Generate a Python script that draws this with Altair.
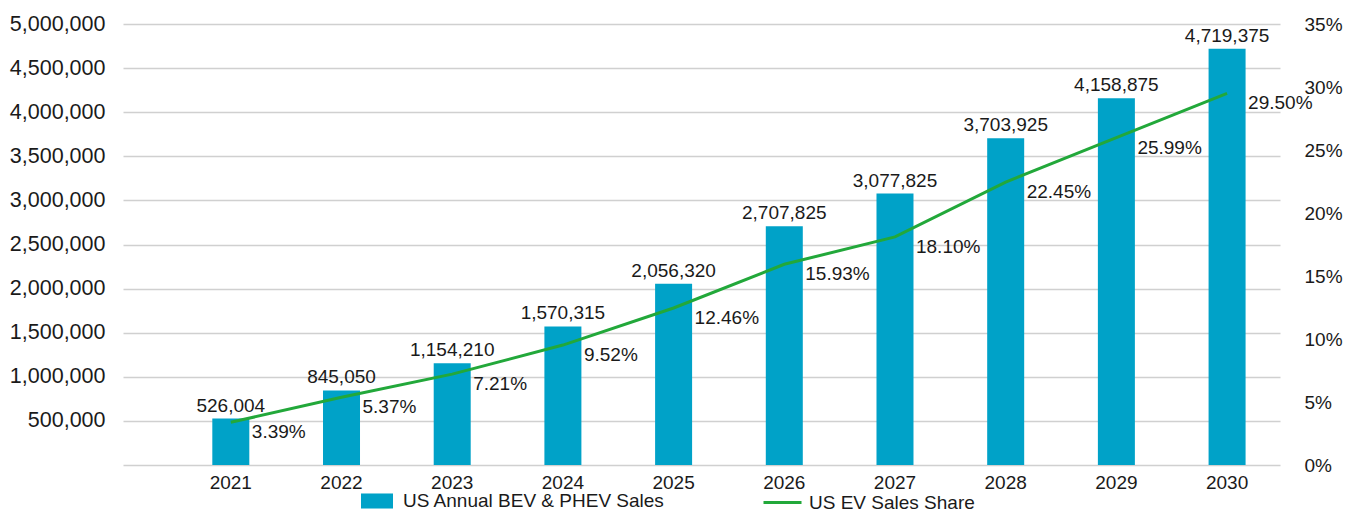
import altair as alt
import pandas as pd

years = ["2021", "2022", "2023", "2024", "2025", "2026", "2027", "2028", "2029", "2030"]
sales = [526004, 845050, 1154210, 1570315, 2056320, 2707825, 3077825, 3703925, 4158875, 4719375]
share = [3.39, 5.37, 7.21, 9.52, 12.46, 15.93, 18.10, 22.45, 25.99, 29.50]
bar_name = "US Annual BEV & PHEV Sales"
line_name = "US EV Sales Share"

df = pd.DataFrame({"year": years, "sales": sales, "share": share})

FONT = "Liberation Sans"
TXT = "#1a1a1a"
BLUE = "#00a2c8"
GREEN = "#22a83a"
FS = 19

xenc = alt.X(
    "year:N",
    sort=years,
    scale=alt.Scale(paddingInner=0.675, paddingOuter=0.5635, align=0.72),
    axis=alt.Axis(title=None, labelAngle=0, ticks=False, domain=False, grid=False,
                  labelPadding=8, labelFontSize=FS, labelColor=TXT, labelFont=FONT),
)

yb = alt.Y(
    "sales:Q",
    scale=alt.Scale(domain=[0, 5000000]),
    axis=alt.Axis(title=None, orient="left", values=list(range(0, 5000001, 500000)),
                  labelExpr="datum.value == 0 ? '' : format(datum.value, ',')",
                  ticks=False, domain=False, grid=True, gridColor="#d0d0d0", gridWidth=1.6,
                  labelPadding=18, labelFontSize=21.5, labelColor=TXT, labelFont=FONT),
)

bars = alt.Chart(df).transform_calculate(series=f"'{bar_name}'").mark_bar(size=37).encode(
    x=xenc,
    y=yb,
    fill=alt.Fill("series:N", scale=alt.Scale(domain=[bar_name], range=[BLUE]),
                  legend=alt.Legend(title=None, orient="none", legendX=238, legendY=461,
                                    symbolType="M-1,-0.47H1V0.47H-1Z", symbolSize=1024,
                                    symbolStrokeWidth=0, labelOffset=10, padding=0, labelLimit=500,
                                    labelFontSize=FS, labelColor=TXT, labelFont=FONT)),
)

bar_text = alt.Chart(df).mark_text(font=FONT, fontSize=FS, color=TXT, baseline="alphabetic", dy=-7).encode(
    x=alt.X("year:N", sort=years),
    y=alt.Y("sales:Q"),
    text=alt.Text("sales:Q", format=","),
)

yl = alt.Y(
    "share:Q",
    scale=alt.Scale(domain=[0, 35]),
    axis=alt.Axis(title=None, orient="right", values=list(range(0, 36, 5)),
                  labelExpr="datum.value + '%'",
                  ticks=False, domain=False, grid=False,
                  labelPadding=24, labelFontSize=FS, labelColor=TXT, labelFont=FONT),
)

line = alt.Chart(df).transform_calculate(series2=f"'{line_name}'").mark_line(strokeWidth=3).encode(
    x=alt.X("year:N", sort=years),
    y=yl,
    stroke=alt.Stroke("series2:N", scale=alt.Scale(domain=[line_name], range=[GREEN]),
                      legend=alt.Legend(title=None, orient="none", legendX=639, legendY=458,
                                        symbolType="stroke", symbolSize=1444,
                                        symbolStrokeWidth=3, labelOffset=6, padding=0, labelLimit=500,
                                        labelFontSize=FS, labelColor=TXT, labelFont=FONT)),
)

line_text = alt.Chart(df).transform_calculate(
    lbl="format(datum.share, '.2f') + '%'"
).mark_text(font=FONT, fontSize=FS, color=TXT, align="left", baseline="middle", dx=21, dy=10).encode(
    x=alt.X("year:N", sort=years),
    y=alt.Y("share:Q"),
    text="lbl:N",
)

chart = alt.layer(
    alt.layer(bars, bar_text),
    alt.layer(line, line_text),
).resolve_scale(y="independent").properties(
    width=1157,
    height=441,
    autosize=alt.AutoSizeParams(type="none"),
    padding={"left": 115, "top": 16, "right": 72, "bottom": 48},
).configure_view(stroke=None)

chart.save("out.html", embed_options={"renderer": "svg", "actions": False})
